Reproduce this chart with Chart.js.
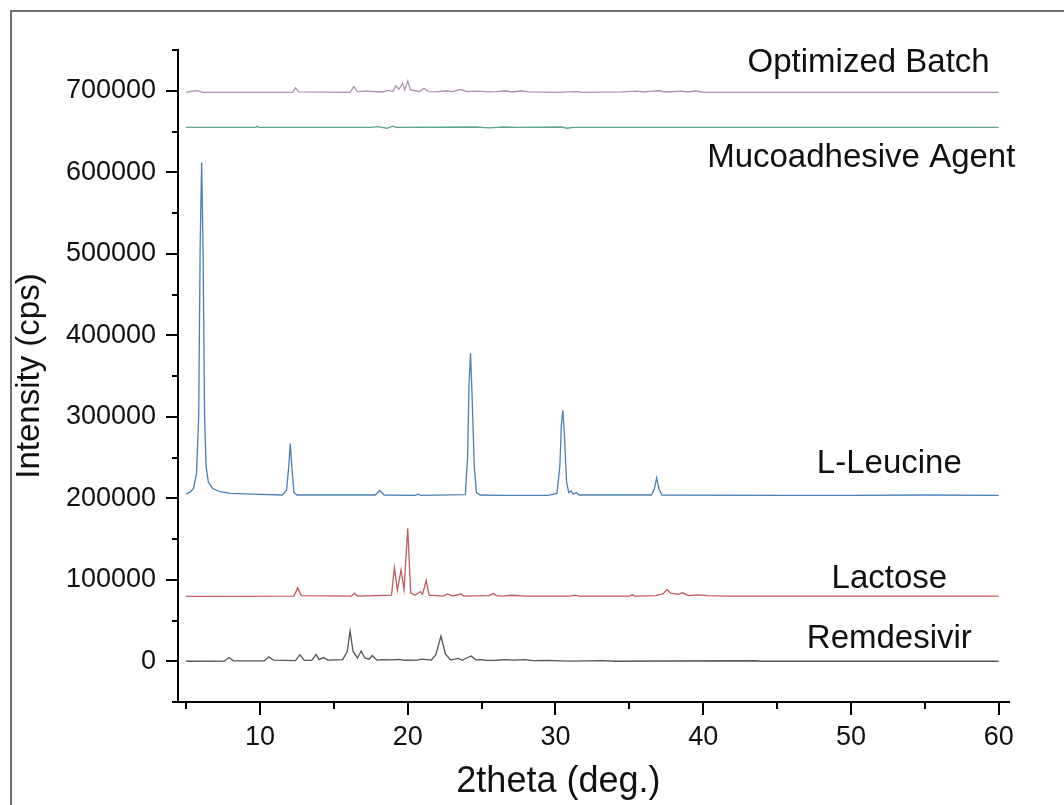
<!DOCTYPE html>
<html>
<head>
<meta charset="utf-8">
<script src="https://cdn.jsdelivr.net/npm/chart.js@4.4.1/dist/chart.umd.min.js"></script>
<style>
  html, body { margin: 0; padding: 0; background: #fff; }
  #wrap { width: 1064px; height: 805px; position: relative; }
</style>
</head>
<body>
<div id="wrap"><canvas id="xrdChart" width="1064" height="805"></canvas></div>
<script>
// 2theta / intensity pairs (each trace already offset)
const remdesivirX = [5, 7.6, 7.9, 8.2, 10.3, 10.6, 10.9, 12.4, 12.7, 13.0, 13.5, 13.8, 14.0, 14.3, 14.6, 15.6, 15.9, 16.1, 16.3, 16.6, 16.85, 17.1, 17.4, 17.6, 17.9, 18.3, 18.9, 19.4, 19.8, 20.6, 21.0, 21.6, 21.9, 22.25, 22.55, 22.9, 23.4, 23.7, 24.0, 24.3, 24.6, 25.0, 25.3, 26.0, 26.6, 27.2, 27.9, 28.5, 29.5, 30.3, 31.0, 33.2, 34.0, 37.5, 43.5, 44.0, 60];
const remdesivirY = [0, 300, 4500, 500, 500, 5500, 1500, 800, 8000, 1000, 1200, 8500, 2000, 4500, 1500, 2000, 12000, 37000, 12000, 4000, 12500, 4000, 2500, 7000, 1500, 2000, 1800, 2200, 1200, 1500, 2500, 1500, 8000, 31000, 9000, 1500, 3500, 1200, 4000, 6500, 1800, 2000, 1000, 1200, 2000, 1500, 2000, 800, 1000, 500, 200, 800, 0, 300, 600, 0, 0];

const lactoseX = [5, 12.3, 12.55, 12.8, 16.2, 16.4, 16.6, 18.9, 19.1, 19.3, 19.55, 19.75, 20.0, 20.2, 20.5, 20.85, 21.0, 21.25, 21.45, 22.4, 22.7, 23.0, 23.6, 23.8, 25.5, 25.8, 26.0, 26.5, 27.0, 28.0, 31.0, 31.3, 31.6, 35.0, 35.2, 35.4, 36.8, 37.3, 37.55, 37.8, 38.3, 38.6, 39.0, 39.7, 40.3, 41.5, 60];
const lactoseY = [79500, 80000, 90000, 80500, 80000, 83500, 80000, 81000, 115000, 87000, 112000, 88000, 163000, 84000, 81000, 85500, 82000, 99000, 81000, 80000, 82500, 80000, 82500, 80000, 80500, 83000, 80500, 80000, 81000, 80000, 80000, 81000, 80000, 80000, 81500, 80000, 80500, 83000, 88000, 83500, 82000, 84000, 80500, 81500, 80500, 80000, 80000];

const leucineX = [5.0, 5.3, 5.5, 5.7, 5.85, 5.95, 6.05, 6.15, 6.25, 6.35, 6.5, 6.8, 7.3, 8.0, 9.5, 11.5, 11.8, 11.95, 12.05, 12.15, 12.3, 12.5, 17.8, 18.1, 18.4, 20.5, 20.7, 20.9, 23.9, 24.05, 24.15, 24.25, 24.35, 24.5, 24.65, 24.9, 26.5, 29.5, 30.1, 30.3, 30.4, 30.5, 30.6, 30.75, 30.9, 31.05, 31.2, 31.4, 31.6, 36.5, 36.7, 36.85, 37.0, 37.2, 45, 50, 55, 60];
const leucineY = [205000, 208000, 212000, 230000, 300000, 510000, 612000, 500000, 300000, 240000, 220000, 212000, 208000, 206000, 205000, 204000, 210000, 240000, 267000, 240000, 207000, 204000, 204000, 209500, 204000, 203500, 205000, 203500, 204500, 250000, 340000, 378000, 330000, 240000, 207000, 204000, 203500, 203500, 206000, 240000, 290000, 308000, 280000, 220000, 207000, 209000, 205000, 207000, 204000, 204000, 212000, 225000, 212000, 204000, 203500, 203500, 204000, 203500];

const mucoX = [5, 9.7, 9.8, 9.9, 17.5, 18.0, 18.6, 19.0, 19.2, 24.6, 25.5, 26.5, 27.4, 30.4, 30.8, 31.2, 45, 60];
const mucoY = [655000, 655000, 656500, 655000, 655000, 656000, 654000, 656500, 655000, 655500, 654500, 655500, 655000, 655500, 654000, 655000, 655000, 655000];

const batchX = [5.0, 5.4, 5.8, 6.1, 12.2, 12.4, 12.6, 16.1, 16.35, 16.6, 17.2, 18.3, 18.7, 19.0, 19.2, 19.4, 19.65, 19.8, 20.0, 20.2, 20.5, 20.8, 21.1, 21.4, 22.0, 22.6, 23.0, 23.6, 24.0, 24.7, 25.5, 26.0, 26.6, 27.1, 27.7, 28.2, 30.0, 31.5, 31.8, 34.5, 35.5, 36.0, 36.5, 37.0, 37.5, 38.5, 39.0, 39.5, 40.0, 60];
const batchY = [698000, 699500, 700000, 698000, 698000, 703500, 698500, 698000, 705000, 699000, 699500, 698500, 700500, 699000, 706000, 702000, 709000, 701000, 712000, 701000, 700000, 699000, 703000, 699000, 698500, 700000, 699000, 701500, 699000, 699500, 698500, 699000, 700000, 698500, 700000, 698500, 698000, 699000, 698000, 698500, 699500, 698500, 699500, 700000, 698500, 699500, 698500, 700000, 698000, 698000];

const seriesNames = ['Remdesivir', 'Lactose', 'L-Leucine', 'Mucoadhesive Agent', 'Optimized Batch'];
const seriesColors = ['#555555', '#c25b5b', '#4a80b4', '#5ea394', '#ad92ae'];

// where each trace name sits, in data units
const labelX = [52.6, 52.6, 52.6, 50.7, 51.2];
const labelY = [16000, 89600, 230900, 606600, 723300];

const xTicks = { min: 4.45, max: 60.7, step: 5 };
const yTicks = { min: -50000, max: 750000, step: 50000 };

const pairs = (xs, ys) => xs.map((x, i) => ({ x: x, y: ys[i] }));
const traces = [
    pairs(remdesivirX, remdesivirY),
    pairs(lactoseX, lactoseY),
    pairs(leucineX, leucineY),
    pairs(mucoX, mucoY),
    pairs(batchX, batchY)
];

const FONT = '"Liberation Sans", Arial, sans-serif';

// tick marks (major / minor), axis titles, trace names, outer frame
const decorations = {
    id: 'decorations',
    afterDraw(chart) {
        const c = chart.ctx;
        const xs = chart.scales.x;
        const ys = chart.scales.y;
        const area = chart.chartArea;
        c.save();
        c.strokeStyle = '#000';
        c.lineWidth = 2;
        xs.ticks.forEach(t => {
            const px = Math.round(xs.getPixelForValue(t.value));
            const len = t.value % 10 === 0 ? 13 : 7;
            c.beginPath();
            c.moveTo(px, area.bottom);
            c.lineTo(px, area.bottom + len);
            c.stroke();
        });
        ys.ticks.forEach(t => {
            const py = Math.round(ys.getPixelForValue(t.value));
            const len = t.value % 100000 === 0 ? 12 : 6;
            c.beginPath();
            c.moveTo(area.left - len, py);
            c.lineTo(area.left, py);
            c.stroke();
        });

        c.fillStyle = '#111';
        c.font = '33px ' + FONT;
        c.textAlign = 'center';
        c.textBaseline = 'alphabetic';
        seriesNames.forEach((name, i) => {
            c.fillText(name, xs.getPixelForValue(labelX[i]), ys.getPixelForValue(labelY[i]));
        });

        c.font = '36px ' + FONT;
        c.textBaseline = 'middle';
        c.fillText('2theta (deg.)', xs.getPixelForValue(30.2), 782);
        c.font = '33px ' + FONT;
        c.translate(30, (area.top + area.bottom) / 2);
        c.rotate(-Math.PI / 2);
        c.fillText('Intensity (cps)', 0, 0);
        c.restore();

        c.save();
        c.strokeStyle = '#6e6e6e';
        c.lineWidth = 2;
        c.strokeRect(11, 11, 1200, 1000);
        c.restore();
    }
};

new Chart(document.getElementById('xrdChart'), {
    type: 'line',
    data: {
        datasets: traces.map((pts, i) => ({
            label: seriesNames[i],
            data: pts,
            borderColor: seriesColors[i],
            borderWidth: 1.3,
            pointRadius: 0,
            tension: 0,
            fill: false
        }))
    },
    options: {
        responsive: false,
        animation: false,
        layout: { padding: { left: 0, right: 55, top: 50, bottom: 0 } },
        plugins: {
            legend: { display: false },
            tooltip: { enabled: false }
        },
        scales: {
            x: {
                type: 'linear',
                min: xTicks.min,
                max: xTicks.max,
                afterFit(scale) { scale.height = 103; },
                border: { display: true, color: '#000', width: 2 },
                grid: { display: true, drawOnChartArea: false, tickLength: 13, tickColor: 'rgba(0,0,0,0)' },
                ticks: {
                    stepSize: xTicks.step,
                    includeBounds: false,
                    autoSkip: false,
                    maxRotation: 0,
                    padding: 6,
                    color: '#111',
                    font: { family: FONT, size: 27 },
                    callback: v => (v % 10 === 0 ? String(v) : '')
                }
            },
            y: {
                type: 'linear',
                min: yTicks.min,
                max: yTicks.max,
                afterFit(scale) { scale.width = 178; },
                border: { display: true, color: '#000', width: 2 },
                grid: { display: true, drawOnChartArea: false, tickLength: 12, tickColor: 'rgba(0,0,0,0)' },
                ticks: {
                    stepSize: yTicks.step,
                    includeBounds: false,
                    autoSkip: false,
                    padding: 10,
                    color: '#111',
                    font: { family: FONT, size: 27 },
                    callback: v => (v % 100000 === 0 ? String(v) : '')
                }
            }
        }
    },
    plugins: [decorations]
});
</script>
</body>
</html>
